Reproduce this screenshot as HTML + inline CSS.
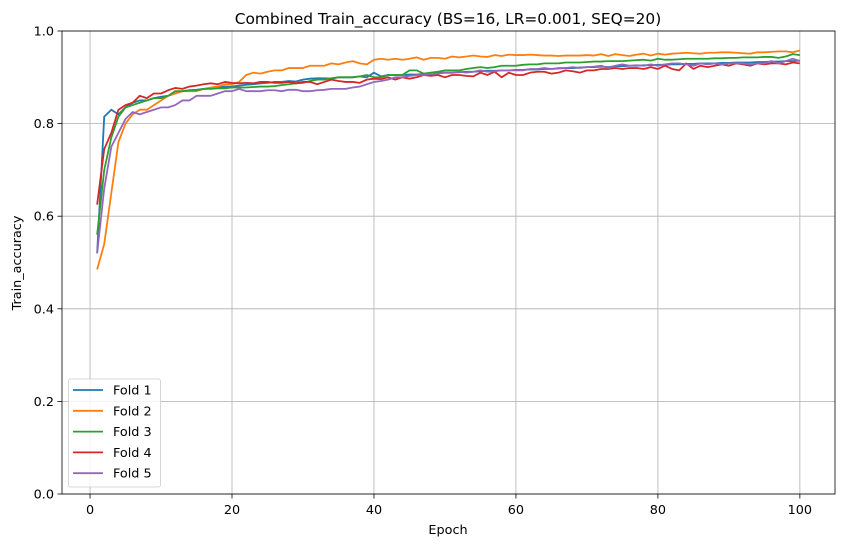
<!DOCTYPE html>
<html><head><meta charset="utf-8"><style>
body{margin:0;background:#fff;}
svg text{font-family:"DejaVu Sans","Liberation Sans",sans-serif;fill:#000;}
</style></head><body>
<svg id="chart" width="846" height="547" viewBox="0 0 846 547" xmlns="http://www.w3.org/2000/svg">
<rect width="846" height="547" fill="#fff"/>
<text x="448" y="24" font-size="15.4" text-anchor="middle">Combined Train_accuracy (BS=16, LR=0.001, SEQ=20)</text>
<g id="grid"></g><g id="series"></g><g id="axes"></g>
<text x="448" y="534" font-size="12.8" text-anchor="middle">Epoch</text>
<text x="0" y="0" font-size="12.8" text-anchor="middle" transform="translate(21,263) rotate(-90)">Train_accuracy</text>
<g id="legend"></g>
</svg>
<script>
const xTicks=[0,20,40,60,80,100];
const yTicks=[0.0,0.2,0.4,0.6,0.8,1.0];
const seriesNames=["Fold 1","Fold 2","Fold 3","Fold 4","Fold 5"];
const fold1=[0.52,0.815,0.83,0.82,0.835,0.845,0.85,0.85,0.855,0.858,0.86,0.865,0.87,0.872,0.873,0.875,0.876,0.878,0.88,0.88,0.882,0.884,0.885,0.887,0.888,0.89,0.89,0.892,0.891,0.895,0.897,0.898,0.898,0.897,0.9,0.9,0.9,0.902,0.9,0.91,0.902,0.905,0.905,0.905,0.906,0.906,0.907,0.908,0.91,0.91,0.91,0.911,0.912,0.912,0.913,0.914,0.914,0.915,0.915,0.916,0.916,0.917,0.917,0.918,0.918,0.919,0.92,0.92,0.921,0.922,0.922,0.923,0.922,0.924,0.924,0.925,0.925,0.926,0.926,0.927,0.927,0.928,0.928,0.929,0.929,0.93,0.93,0.93,0.931,0.931,0.932,0.932,0.932,0.933,0.933,0.934,0.934,0.935,0.935,0.936];
const fold2=[0.485,0.54,0.65,0.76,0.8,0.82,0.83,0.83,0.84,0.85,0.86,0.865,0.87,0.87,0.87,0.875,0.878,0.88,0.885,0.885,0.89,0.905,0.91,0.908,0.912,0.915,0.915,0.92,0.92,0.92,0.925,0.925,0.925,0.93,0.928,0.932,0.935,0.93,0.928,0.938,0.94,0.938,0.94,0.938,0.94,0.943,0.938,0.942,0.942,0.94,0.945,0.943,0.945,0.947,0.945,0.944,0.948,0.946,0.949,0.948,0.948,0.949,0.948,0.947,0.947,0.946,0.947,0.947,0.947,0.948,0.947,0.95,0.946,0.95,0.948,0.946,0.949,0.951,0.947,0.951,0.949,0.951,0.952,0.953,0.952,0.951,0.953,0.953,0.954,0.954,0.953,0.952,0.951,0.954,0.954,0.955,0.956,0.956,0.954,0.958];
const fold3=[0.56,0.7,0.77,0.815,0.835,0.84,0.845,0.85,0.855,0.855,0.86,0.87,0.87,0.872,0.872,0.875,0.875,0.876,0.876,0.878,0.878,0.878,0.879,0.88,0.88,0.881,0.883,0.885,0.887,0.888,0.892,0.895,0.895,0.898,0.9,0.9,0.9,0.902,0.905,0.9,0.9,0.905,0.905,0.905,0.915,0.915,0.908,0.91,0.912,0.915,0.915,0.915,0.918,0.92,0.922,0.92,0.922,0.925,0.925,0.925,0.927,0.928,0.928,0.93,0.93,0.93,0.932,0.932,0.932,0.933,0.934,0.934,0.935,0.935,0.935,0.936,0.937,0.938,0.936,0.94,0.938,0.938,0.939,0.94,0.94,0.94,0.94,0.941,0.941,0.942,0.942,0.943,0.943,0.943,0.944,0.944,0.942,0.945,0.95,0.948];
const fold4=[0.625,0.745,0.78,0.83,0.84,0.845,0.86,0.855,0.865,0.865,0.872,0.877,0.875,0.88,0.882,0.885,0.887,0.885,0.89,0.888,0.887,0.888,0.887,0.89,0.89,0.888,0.888,0.89,0.887,0.89,0.89,0.885,0.89,0.895,0.892,0.89,0.89,0.888,0.895,0.897,0.896,0.9,0.895,0.9,0.897,0.9,0.905,0.903,0.905,0.9,0.905,0.905,0.903,0.902,0.91,0.905,0.912,0.9,0.91,0.905,0.905,0.91,0.912,0.912,0.908,0.91,0.915,0.913,0.91,0.915,0.915,0.918,0.918,0.92,0.918,0.92,0.92,0.918,0.922,0.918,0.925,0.918,0.915,0.93,0.918,0.925,0.922,0.925,0.928,0.925,0.93,0.928,0.925,0.93,0.928,0.93,0.93,0.928,0.932,0.93];
const fold5=[0.52,0.66,0.75,0.78,0.81,0.825,0.82,0.825,0.83,0.835,0.835,0.84,0.85,0.85,0.86,0.86,0.86,0.865,0.87,0.87,0.875,0.87,0.87,0.87,0.872,0.872,0.87,0.873,0.873,0.87,0.87,0.872,0.873,0.875,0.875,0.875,0.878,0.88,0.885,0.89,0.892,0.895,0.9,0.9,0.903,0.905,0.905,0.907,0.908,0.91,0.91,0.912,0.91,0.912,0.915,0.912,0.913,0.915,0.915,0.915,0.915,0.918,0.918,0.92,0.918,0.92,0.92,0.922,0.92,0.922,0.923,0.925,0.92,0.925,0.928,0.925,0.926,0.925,0.928,0.925,0.928,0.93,0.93,0.928,0.925,0.93,0.928,0.93,0.928,0.93,0.93,0.93,0.928,0.93,0.93,0.935,0.93,0.935,0.94,0.935];
const colors=["#1f77b4","#ff7f0e","#2ca02c","#d62728","#9467bd"];
const allSeries=[fold1,fold2,fold3,fold4,fold5];

const L=62,R=835,T=31,B=494;
const xMin=-3.95,xMax=104.95;
function xs(v){return L+(v-xMin)/(xMax-xMin)*(R-L);}
function ys(v){return B-v*(B-T);}
const NS="http://www.w3.org/2000/svg";
function mk(tag,attrs,parent){const e=document.createElementNS(NS,tag);for(const k in attrs)e.setAttribute(k,attrs[k]);parent.appendChild(e);return e;}
const grid=document.getElementById('grid'),axes=document.getElementById('axes'),ser=document.getElementById('series'),leg=document.getElementById('legend');
xTicks.forEach(t=>{const x=xs(t);
 const g=mk('line',{x1:x,x2:x,y1:T,y2:B,stroke:'#b0b0b0','stroke-width':0.8},grid);
 
 
 mk('line',{x1:x,x2:x,y1:B,y2:B+4.5,stroke:'#000','stroke-width':0.8},axes);
 const tx=mk('text',{x:x,y:B+20,'font-size':12.8,'text-anchor':'middle'},axes);tx.textContent=t;
 
 
});
yTicks.forEach(t=>{const y=ys(t);
 const g=mk('line',{x1:L,x2:R,y1:y,y2:y,stroke:'#b0b0b0','stroke-width':0.8},grid);
 
 
 mk('line',{x1:L-4.5,x2:L,y1:y,y2:y,stroke:'#000','stroke-width':0.8},axes);
 const tx=mk('text',{x:L-8,y:y+4.5,'font-size':12.8,'text-anchor':'end'},axes);tx.textContent=t.toFixed(1);
 
 
});
const frame=mk('rect',{x:L,y:T,width:R-L,height:B-T,fill:'none',stroke:'#000','stroke-width':0.8},axes);


allSeries.forEach((s,i)=>{
 const d=s.map((v,j)=>(j?'L':'M')+xs(j+1).toFixed(2)+','+ys(v).toFixed(2)).join('');
 const p=mk('path',{d:d,fill:'none',stroke:colors[i],'stroke-width':1.8,'stroke-linejoin':'round'},ser);
 
 
});
const box=mk('rect',{x:68.5,y:379,width:92,height:108,rx:2,fill:'#fff','fill-opacity':0.8,stroke:'#ccc','stroke-width':0.8},leg);


seriesNames.forEach((n,i)=>{const y=390+i*20.8;
 const l=mk('line',{x1:73,x2:103,y1:y,y2:y,stroke:colors[i],'stroke-width':1.8},leg);
 
 
 const t=mk('text',{x:113,y:y+4.5,'font-size':12.8},leg);t.textContent=n;
 
 
});
</script>
</body></html>
